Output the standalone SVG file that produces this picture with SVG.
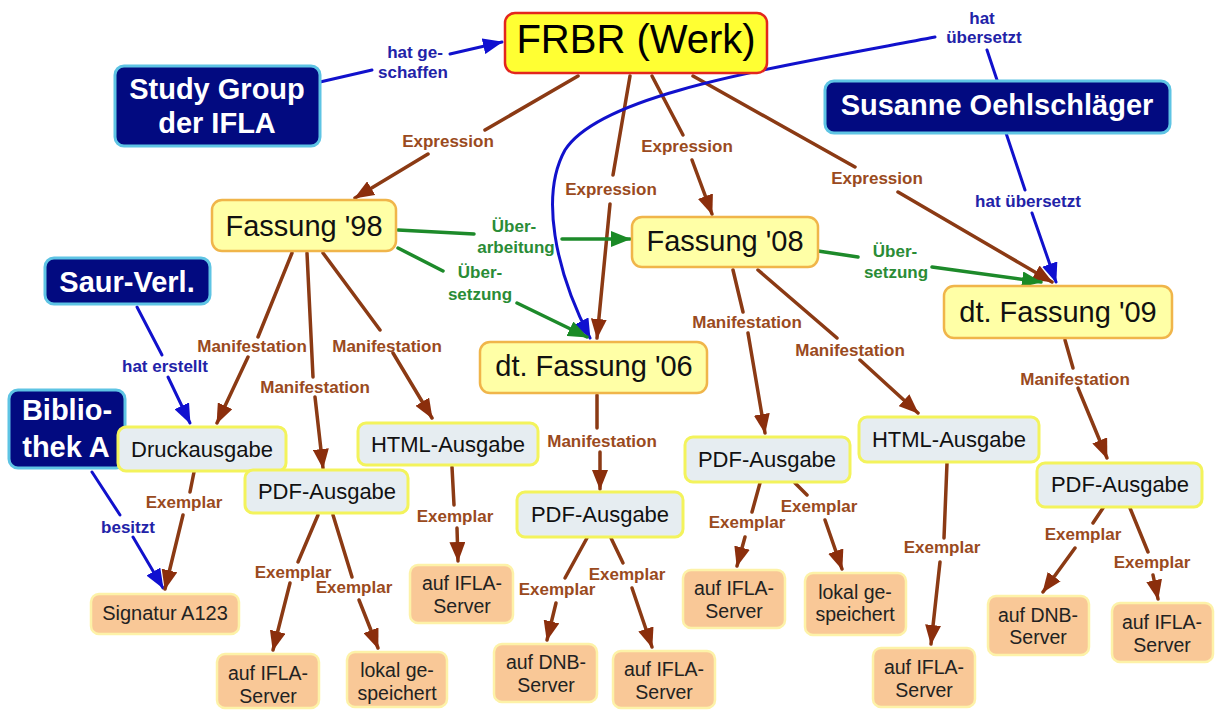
<svg xmlns="http://www.w3.org/2000/svg" width="1221" height="713" viewBox="0 0 1221 713">
<style>
text{font-family:"Liberation Sans",Arial,sans-serif;text-anchor:middle}
.navy rect{fill:#020a80;stroke:#5ec4e4;stroke-width:3}
.navy text{fill:#fff;font-weight:bold;font-size:29px}
.werk rect{fill:#ffff33;stroke:#e3261d;stroke-width:2.5}
.werk text{fill:#000;font-size:40px}
.fass rect{fill:#ffffa6;stroke:#f0b54a;stroke-width:2.5}
.fass text{fill:#111;font-size:29px}
.ausg rect{fill:#e6edf1;stroke:#f3f35c;stroke-width:3}
.ausg text{fill:#111;font-size:22px}
.expl rect{fill:#f9c897;stroke:#fdf2a8;stroke-width:2.5}
.expl text{fill:#222;font-size:19.5px}
.c path{fill:none;stroke-linecap:round}
.br{stroke:#8b3a14;stroke-width:3.5}
.gr{stroke:#1d8a2a;stroke-width:3.5}
.bl{stroke:#1111cc;stroke-width:3}
.lab text{font-weight:bold;font-size:17px}
.lb{fill:#9a4a20}
.lg{fill:#2a8c36}
.ll{fill:#2222a8}
</style>
<defs>
<marker id="ab" viewBox="0 0 20 16" refX="19" refY="8" markerWidth="20" markerHeight="16" markerUnits="userSpaceOnUse" orient="auto"><path d="M0,0 L20,8 L0,16 z" fill="#8b2e0c"/></marker>
<marker id="ag" viewBox="0 0 20 16" refX="19" refY="8" markerWidth="20" markerHeight="16" markerUnits="userSpaceOnUse" orient="auto"><path d="M0,0 L20,8 L0,16 z" fill="#1a8a26"/></marker>
<marker id="al" viewBox="0 0 20 16" refX="19" refY="8" markerWidth="20" markerHeight="16" markerUnits="userSpaceOnUse" orient="auto"><path d="M0,0 L20,8 L0,16 z" fill="#1010d0"/></marker>
</defs>
<rect width="1221" height="713" fill="#fff"/>

<g id="connectors" class="c">
<path class="bl" d="M320,82 L372,70 M450,54 L502,42" marker-end="url(#al)"/>
<path class="br" d="M578,76 L485,130 M428,154 L355,198" marker-end="url(#ab)"/>
<path class="br" d="M630,76 L613,175 M610,204 L597,338" marker-end="url(#ab)"/>
<path class="br" d="M652,76 L683,135 M692,160 L712,214" marker-end="url(#ab)"/>
<path class="br" d="M693,76 L855,167 M898,192 L1052,282" marker-end="url(#ab)"/>
<path class="bl" d="M997,80 L987,50 M935,37 C760,70 600,95 565,150 C540,195 555,270 590,338" marker-end="url(#al)"/>
<path class="bl" d="M1006,133 L1025,190 M1032,213 L1056,282" marker-end="url(#al)"/>
<path class="gr" d="M398,230 L474,234 M562,239 L630,239" marker-end="url(#ag)"/>
<path class="gr" d="M398,248 L443,271 M517,303 L587,337" marker-end="url(#ag)"/>
<path class="gr" d="M818,251 L858,257 M932,267 L1041,282" marker-end="url(#ag)"/>
<path class="bl" d="M137,307 L162,355 M168,377 L190,423" marker-end="url(#al)"/>
<path class="bl" d="M92,472 L120,515 M133,537 L163,588" marker-end="url(#al)"/>
<path class="br" d="M292,253 L258,337 M248,357 L217,423" marker-end="url(#ab)"/>
<path class="br" d="M307,253 L313,377 M315,397 L323,468" marker-end="url(#ab)"/>
<path class="br" d="M323,253 L380,330 M393,353 L432,418" marker-end="url(#ab)"/>
<path class="br" d="M597,395 L597,428 M600,452 L600,489" marker-end="url(#ab)"/>
<path class="br" d="M733,270 L743,312 M748,333 L765,433" marker-end="url(#ab)"/>
<path class="br" d="M758,270 L837,338 M860,360 L918,413" marker-end="url(#ab)"/>
<path class="br" d="M1065,340 L1073,368 M1078,388 L1107,458" marker-end="url(#ab)"/>
<path class="br" d="M194,472 L190,492 M183,515 L165,589" marker-end="url(#ab)"/>
<path class="br" d="M318,515 L298,562 M290,583 L273,650" marker-end="url(#ab)"/>
<path class="br" d="M333,515 L352,577 M359,600 L378,648" marker-end="url(#ab)"/>
<path class="br" d="M452,467 L454,505 M457,528 L458,561" marker-end="url(#ab)"/>
<path class="br" d="M587,538 L565,578 M556,603 L547,640" marker-end="url(#ab)"/>
<path class="br" d="M611,538 L623,563 M632,588 L652,647" marker-end="url(#ab)"/>
<path class="br" d="M760,483 L752,512 M745,537 L737,566" marker-end="url(#ab)"/>
<path class="br" d="M795,483 L807,495 M825,520 L842,569" marker-end="url(#ab)"/>
<path class="br" d="M947,463 L944,538 M940,562 L931,644" marker-end="url(#ab)"/>
<path class="br" d="M1103,508 L1093,523 M1075,548 L1043,592" marker-end="url(#ab)"/>
<path class="br" d="M1130,508 L1148,552 M1153,575 L1158,599" marker-end="url(#ab)"/>
</g>

<g id="labels" class="lab">
<text class="ll" x="415" y="58">hat ge-</text>
<text class="ll" x="413" y="78">schaffen</text>
<text class="lb" x="448" y="147">Expression</text>
<text class="lb" x="611" y="195">Expression</text>
<text class="lb" x="687" y="152">Expression</text>
<text class="lb" x="877" y="184">Expression</text>
<text class="ll" x="982" y="24">hat</text>
<text class="ll" x="984" y="43">übersetzt</text>
<text class="ll" x="1028" y="207">hat übersetzt</text>
<text class="lg" x="514" y="232">Über-</text>
<text class="lg" x="516" y="253">arbeitung</text>
<text class="lg" x="480" y="278">Über-</text>
<text class="lg" x="480" y="300">setzung</text>
<text class="lg" x="895" y="257">Über-</text>
<text class="lg" x="896" y="278">setzung</text>
<text class="ll" x="165" y="372">hat erstellt</text>
<text class="ll" x="128" y="533">besitzt</text>
<text class="lb" x="252" y="352">Manifestation</text>
<text class="lb" x="315" y="393">Manifestation</text>
<text class="lb" x="387" y="352">Manifestation</text>
<text class="lb" x="602" y="447">Manifestation</text>
<text class="lb" x="747" y="328">Manifestation</text>
<text class="lb" x="850" y="356">Manifestation</text>
<text class="lb" x="1075" y="385">Manifestation</text>
<text class="lb" x="184" y="508">Exemplar</text>
<text class="lb" x="293" y="578">Exemplar</text>
<text class="lb" x="354" y="593">Exemplar</text>
<text class="lb" x="455" y="522">Exemplar</text>
<text class="lb" x="557" y="595">Exemplar</text>
<text class="lb" x="627" y="580">Exemplar</text>
<text class="lb" x="747" y="528">Exemplar</text>
<text class="lb" x="819" y="512">Exemplar</text>
<text class="lb" x="942" y="553">Exemplar</text>
<text class="lb" x="1083" y="540">Exemplar</text>
<text class="lb" x="1152" y="568">Exemplar</text>
</g>

<g id="frbr" class="werk"><rect x="505" y="13" width="262" height="60" rx="10"/><text x="636" y="53">FRBR (Werk)</text></g>
<g id="studygroup" class="navy"><rect x="115" y="66" width="205" height="80" rx="9"/><text x="217" y="99">Study Group</text><text x="217" y="133">der IFLA</text></g>
<g id="susanne" class="navy"><rect x="825" y="81" width="345" height="52" rx="9"/><text x="997" y="115">Susanne Oehlschläger</text></g>
<g id="saur" class="navy"><rect x="45" y="258" width="165" height="46" rx="9"/><text x="127" y="292">Saur-Verl.</text></g>
<g id="bibliothek" class="navy"><rect x="9" y="390" width="116" height="78" rx="9"/><text x="67" y="420">Biblio-</text><text x="66" y="457">thek A</text></g>
<g id="fassung98" class="fass"><rect x="212" y="200" width="184" height="51" rx="10"/><text x="304" y="236">Fassung '98</text></g>
<g id="fassung08" class="fass"><rect x="632" y="217" width="186" height="50" rx="10"/><text x="725" y="251">Fassung '08</text></g>
<g id="fassung06" class="fass"><rect x="480" y="342" width="227" height="51" rx="10"/><text x="594" y="376">dt. Fassung '06</text></g>
<g id="fassung09" class="fass"><rect x="944" y="286" width="228" height="52" rx="10"/><text x="1058" y="322">dt. Fassung '09</text></g>
<g id="druck" class="ausg"><rect x="118" y="427" width="168" height="44" rx="8"/><text x="202" y="457">Druckausgabe</text></g>
<g id="pdf1" class="ausg"><rect x="245" y="470" width="163" height="43" rx="8"/><text x="327" y="499">PDF-Ausgabe</text></g>
<g id="html1" class="ausg"><rect x="358" y="423" width="180" height="42" rx="8"/><text x="448" y="452">HTML-Ausgabe</text></g>
<g id="pdf2" class="ausg"><rect x="517" y="492" width="166" height="45" rx="8"/><text x="600" y="522">PDF-Ausgabe</text></g>
<g id="pdf3" class="ausg"><rect x="685" y="437" width="165" height="45" rx="8"/><text x="767" y="467">PDF-Ausgabe</text></g>
<g id="html2" class="ausg"><rect x="859" y="417" width="180" height="45" rx="8"/><text x="949" y="447">HTML-Ausgabe</text></g>
<g id="pdf4" class="ausg"><rect x="1037" y="463" width="165" height="44" rx="8"/><text x="1120" y="492">PDF-Ausgabe</text></g>
<g id="signatur" class="expl"><rect x="91" y="594" width="148" height="40" rx="8"/><text x="165" y="620" style="font-size:20px">Signatur A123</text></g>
<g id="ifla1" class="expl"><rect x="217" y="654" width="102" height="54" rx="8"/><text x="268" y="680">auf IFLA-</text><text x="268" y="703">Server</text></g>
<g id="lokal1" class="expl"><rect x="347" y="652" width="100" height="55" rx="8"/><text x="397" y="677">lokal ge-</text><text x="397" y="700">speichert</text></g>
<g id="ifla2" class="expl"><rect x="410" y="565" width="103" height="58" rx="8"/><text x="462" y="590">auf IFLA-</text><text x="462" y="613">Server</text></g>
<g id="dnb1" class="expl"><rect x="494" y="644" width="103" height="58" rx="8"/><text x="546" y="669">auf DNB-</text><text x="546" y="692">Server</text></g>
<g id="ifla3" class="expl"><rect x="613" y="651" width="102" height="57" rx="8"/><text x="664" y="676">auf IFLA-</text><text x="664" y="699">Server</text></g>
<g id="ifla4" class="expl"><rect x="683" y="570" width="102" height="58" rx="8"/><text x="734" y="595">auf IFLA-</text><text x="734" y="618">Server</text></g>
<g id="lokal2" class="expl"><rect x="805" y="573" width="101" height="62" rx="8"/><text x="855" y="599">lokal ge-</text><text x="855" y="621">speichert</text></g>
<g id="ifla5" class="expl"><rect x="873" y="648" width="102" height="59" rx="8"/><text x="924" y="674">auf IFLA-</text><text x="924" y="697">Server</text></g>
<g id="dnb2" class="expl"><rect x="988" y="596" width="101" height="59" rx="8"/><text x="1038" y="622">auf DNB-</text><text x="1038" y="644">Server</text></g>
<g id="ifla6" class="expl"><rect x="1112" y="603" width="101" height="59" rx="8"/><text x="1162" y="629">auf IFLA-</text><text x="1162" y="652">Server</text></g>
</svg>
